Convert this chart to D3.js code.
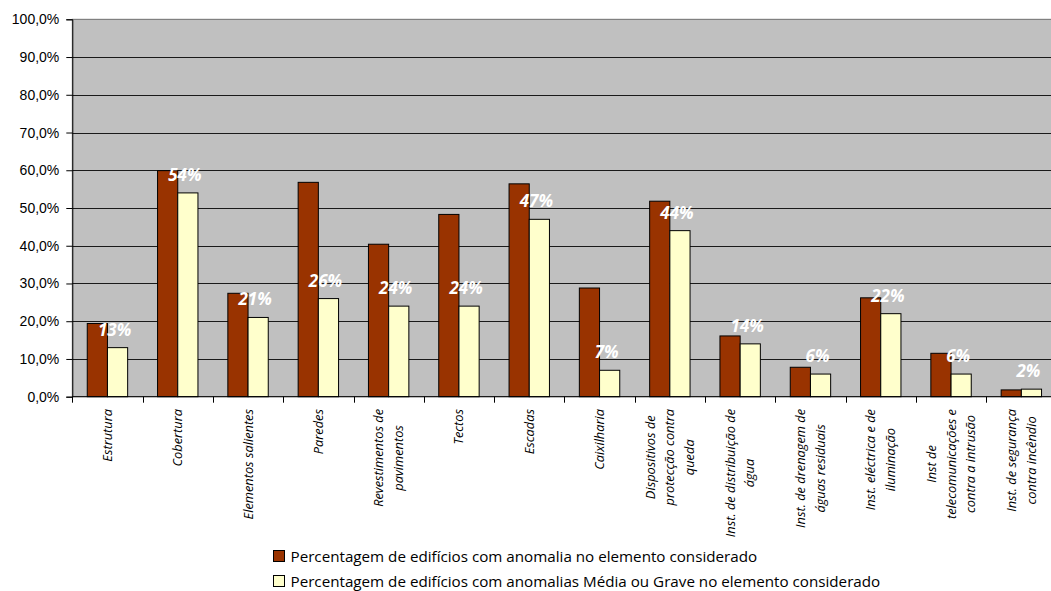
<!DOCTYPE html>
<html>
<head>
<meta charset="utf-8">
<script src="https://cdn.jsdelivr.net/npm/d3@7"></script>
<style>
  html, body { margin: 0; padding: 0; background: #fff; }
  svg { display: block; font-family: "Open Sans", "Noto Sans", sans-serif; }
</style>
</head>
<body>
<svg id="chart" width="1051" height="591"></svg>
<script>
// Building elements surveyed (line breaks as printed under the axis)
const categories = [
  "Estrutura",
  "Cobertura",
  "Elementos salientes",
  "Paredes",
  "Revestimentos de\npavimentos",
  "Tectos",
  "Escadas",
  "Caixilharia",
  "Dispositivos de\nprotecção contra\nqueda",
  "Inst. de distribuição de\nágua",
  "Inst. de drenagem de\náguas residuais",
  "Inst. eléctrica e de\niluminação",
  "Inst de\ntelecomunicações e\ncontra a intrusão",
  "Inst. de segurança\ncontra incêndio"
];

// Share of buildings with any anomaly in the element
const anyAnomaly = [0.194, 0.599, 0.274, 0.568, 0.404, 0.483, 0.564, 0.288, 0.518, 0.161, 0.078, 0.262, 0.115, 0.018];

// Share of buildings with a medium or severe anomaly in the element
const severeAnomaly = [0.13, 0.54, 0.21, 0.26, 0.24, 0.24, 0.47, 0.07, 0.44, 0.14, 0.06, 0.22, 0.06, 0.02];

const seriesNames = [
  "Percentagem de edifícios com anomalia no elemento considerado",
  "Percentagem de edifícios com anomalias Média ou Grave no elemento considerado"
];

const yTicks = [0, 0.1, 0.2, 0.3, 0.4, 0.5, 0.6, 0.7, 0.8, 0.9, 1.0];

const colors = ["#993300", "#FFFFCC"];

const svg = d3.select("#chart");

const plot = { left: 72.3, top: 19.3, bottom: 396.7, band: 70.3 };
plot.right = plot.left + plot.band * categories.length;

const x = d3.scaleBand()
  .domain(d3.range(categories.length))
  .range([plot.left, plot.right]);

const xSub = d3.scaleBand()
  .domain([0, 1])
  .range([plot.band / 2 - 20.2, plot.band / 2 + 20.2]);

const y = d3.scaleLinear().domain([0, 1]).range([plot.bottom, plot.top]);

// Plot area background
svg.append("rect")
  .attr("x", plot.left).attr("y", plot.top)
  .attr("width", plot.right - plot.left).attr("height", plot.bottom - plot.top)
  .attr("fill", "#C0C0C0")
  .attr("stroke", "#808080").attr("stroke-width", 1);

// Horizontal gridlines
svg.append("g")
  .selectAll("line")
  .data(yTicks.slice(1))
  .join("line")
  .attr("x1", plot.left).attr("x2", plot.right)
  .attr("y1", d => Math.round(y(d)) + 0.5).attr("y2", d => Math.round(y(d)) + 0.5)
  .attr("stroke", d => d === 1 ? "#808080" : "#1a1a1a")
  .attr("stroke-width", 1);

// Bars
const groups = svg.append("g")
  .selectAll("g")
  .data(categories.map((c, i) => i))
  .join("g")
  .attr("transform", i => `translate(${x(i)},0)`);

groups.selectAll("rect")
  .data(i => [anyAnomaly[i], severeAnomaly[i]].map((v, s) => ({ v, s })))
  .join("rect")
  .attr("x", d => xSub(d.s))
  .attr("width", xSub.bandwidth())
  .attr("y", d => y(d.v))
  .attr("height", d => y(0) - y(d.v))
  .attr("fill", d => colors[d.s])
  .attr("stroke", "#000")
  .attr("stroke-width", 1);

// Value labels above the second series
groups.append("text")
  .attr("x", i => xSub(1) + xSub.bandwidth() / 2 - 3)
  .attr("y", i => y(severeAnomaly[i]) - 12)
  .attr("text-anchor", "middle")
  .attr("fill", "#fff")
  .attr("font-weight", "bold")
  .attr("font-style", "italic")
  .attr("font-size", 17)
  .text(i => d3.format(".0%")(severeAnomaly[i]));

// Y axis
const pct = v => d3.format(".1f")(v * 100).replace(".", ",") + "%";
const yAxis = d3.axisLeft(y)
  .tickValues(yTicks)
  .tickSize(6)
  .tickPadding(7)
  .tickFormat(pct);

svg.append("g")
  .attr("transform", `translate(${plot.left},0)`)
  .call(yAxis)
  .call(g => g.selectAll("text").attr("font-size", 14).attr("fill", "#000").attr("font-family", null))
  .call(g => g.selectAll("line,path").attr("stroke", "#000"));

// X axis (ticks between categories)
const xAxisG = svg.append("g")
  .attr("transform", `translate(0,${plot.bottom})`);
xAxisG.append("line")
  .attr("x1", plot.left).attr("x2", plot.right)
  .attr("stroke", "#000");
xAxisG.selectAll("line.tick")
  .data(d3.range(categories.length + 1))
  .join("line")
  .attr("class", "tick")
  .attr("x1", i => Math.round(plot.left + i * plot.band) + 0.5)
  .attr("x2", i => Math.round(plot.left + i * plot.band) + 0.5)
  .attr("y1", 0).attr("y2", 6)
  .attr("stroke", "#000");

// Rotated category labels, top-aligned, lines centred on the longest one
const labelTop = 409;
const lineGap = 19.5;
categories.forEach((c, i) => {
  const lines = c.split("\n");
  const cx = x(i) + plot.band / 2;
  const g = svg.append("g");
  const texts = lines.map((ln, k) => g.append("text")
    .attr("font-size", 12.8)
    .attr("font-style", "italic")
    .attr("fill", "#000")
    .attr("text-anchor", "middle")
    .attr("dy", "0.35em")
    .text(ln));
  const maxW = d3.max(texts, t => t.node().getComputedTextLength());
  texts.forEach((t, k) => {
    const lx = cx + (k - (lines.length - 1) / 2) * lineGap;
    const ly = labelTop + maxW / 2;
    t.attr("transform", `translate(${lx},${ly}) rotate(-90)`);
  });
});

// Legend
const legend = svg.append("g").selectAll("g")
  .data(seriesNames)
  .join("g")
  .attr("transform", (d, k) => `translate(273.5,${550.5 + k * 25})`);
legend.append("rect")
  .attr("width", 11).attr("height", 11)
  .attr("fill", (d, k) => colors[k])
  .attr("stroke", "#000").attr("stroke-width", 1);
legend.append("text")
  .attr("x", 17).attr("y", 11)
  .attr("font-size", 15.2)
  .attr("fill", "#000")
  .text(d => d);
</script>
</body>
</html>
